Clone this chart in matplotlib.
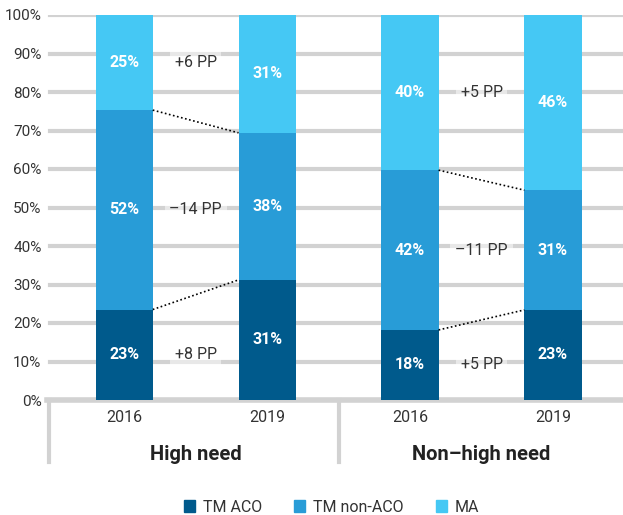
import matplotlib.pyplot as plt
from matplotlib.lines import Line2D
from matplotlib.patches import Patch

# values (share in %)
positions = [0, 1, 2, 3]
years = ["2016", "2019", "2016", "2019"]
groups = ["High need", "Non\u2013high need"]
tm_aco = [23.5, 31.2, 18.2, 23.4]
tm_non_aco = [51.8, 38.2, 41.5, 31.1]
ma = [24.7, 30.6, 40.3, 45.5]
aco_labels = ["23%", "31%", "18%", "23%"]
non_aco_labels = ["52%", "38%", "42%", "31%"]
ma_labels = ["25%", "31%", "40%", "46%"]
pp_high = ["+8 PP", "\u201314 PP", "+6 PP"]
pp_non_high = ["+5 PP", "\u201311 PP", "+5 PP"]

C_ACO = "#005a8c"
C_NON = "#289cd7"
C_MA = "#45c8f4"
GRID = "#d2d2d2"
TXT = "#333333"

plt.rcParams["font.family"] = ["Roboto", "DejaVu Sans"]

fig = plt.figure(figsize=(6.23, 5.15), dpi=100)
ax = fig.add_axes([47 / 623, 115 / 515, 576 / 623, 385 / 515])

W = 0.4
ax.bar(positions, tm_aco, W, color=C_ACO, zorder=3)
ax.bar(positions, tm_non_aco, W, bottom=tm_aco, color=C_NON, zorder=3)
bot_ma = [a + b for a, b in zip(tm_aco, tm_non_aco)]
ax.bar(positions, ma, W, bottom=bot_ma, color=C_MA, zorder=3)

# segment labels
mids = []
for i in positions:
    m = [tm_aco[i] / 2, tm_aco[i] + tm_non_aco[i] / 2, bot_ma[i] + ma[i] / 2]
    mids.append(m)
    for y, t in zip(m, [aco_labels[i], non_aco_labels[i], ma_labels[i]]):
        ax.text(i, y, t, ha="center", va="center", color="white",
                fontsize=11.5, fontweight="bold", zorder=4)

# change labels and dotted connectors
for g, pps in zip([0, 2], [pp_high, pp_non_high]):
    for k, t in enumerate(pps):
        ax.text(g + 0.5, mids[g][k], t, ha="center", va="center", color=TXT,
                fontsize=11.5, zorder=2,
                bbox=dict(boxstyle="square,pad=0.3", fc="white", ec="none", alpha=0.5))
    for tops in (tm_aco, bot_ma):
        ax.plot([g + W / 2, g + 1 - W / 2], [tops[g], tops[g + 1]],
                ls=(0, (1, 1.5)), color="black", lw=1.2, zorder=4)

ax.set_xlim(-0.54, 3.49)
ax.set_ylim(0, 100)
ax.set_yticks(range(0, 101, 10))
ax.set_yticklabels([f"{v}%" for v in range(0, 101, 10)], fontsize=11, color=TXT)
ax.tick_params(axis="y", length=0, pad=4)
ax.set_xticks([])
for v in range(10, 101, 10):
    ax.axhline(v, xmin=3 / 576, color=GRID, lw=3, zorder=1)
for s in ax.spines.values():
    s.set_visible(False)

# category axis below the bars
trans = ax.get_xaxis_transform()
ax.add_line(Line2D([-0.54, 3.49], [0, 0], transform=trans, color=GRID,
                   lw=4, clip_on=False, zorder=1))
for x in (-0.525, 1.5):
    ax.add_line(Line2D([x, x], [0, -62 / 385], transform=trans, color=GRID,
                       lw=3, clip_on=False))
for i in positions:
    ax.text(i, -17 / 385, years[i], transform=trans, ha="center", va="center",
            fontsize=11.5, color=TXT)
for g, name in zip([0.5, 2.5], groups):
    ax.text(g, -54 / 385, name, transform=trans, ha="center", va="center",
            fontsize=14.5, fontweight="bold", color="#222222")

handles = [Patch(color=C_ACO), Patch(color=C_NON), Patch(color=C_MA)]
fig.legend(handles, ["TM ACO", "TM non-ACO", "MA"], loc="center",
           bbox_to_anchor=(0.532, 8 / 515), ncol=3, frameon=False,
           fontsize=11.5, handlelength=0.7, handleheight=0.7,
           columnspacing=2.0, handletextpad=0.5, labelcolor=TXT)

fig.savefig("out.png", dpi=100)
